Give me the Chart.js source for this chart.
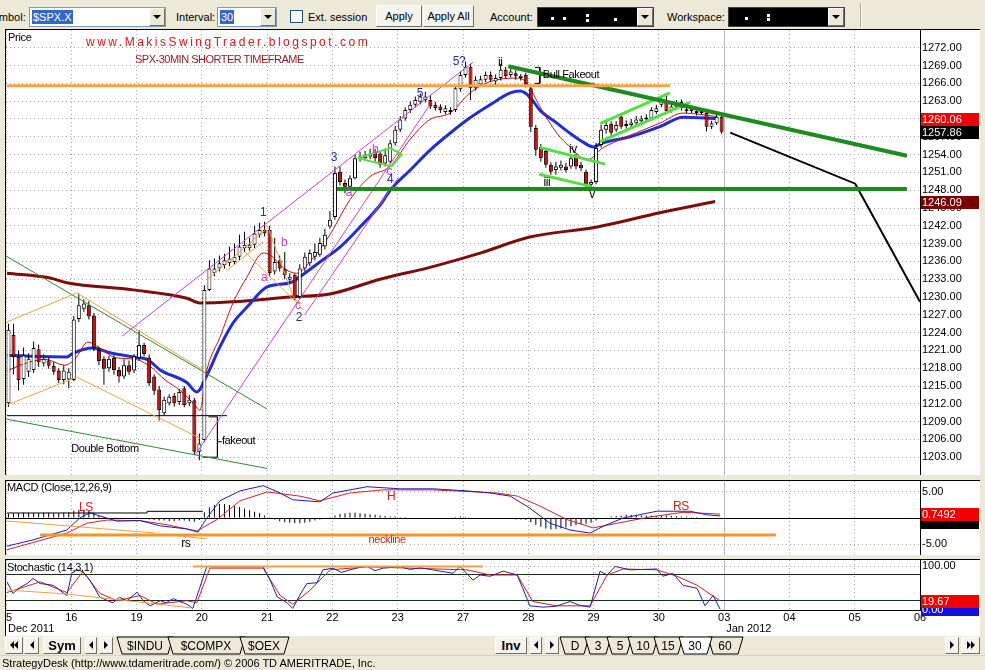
<!DOCTYPE html>
<html>
<head>
<meta charset="utf-8">
<title>SPX-30MIN</title>
<script src="https://cdn.jsdelivr.net/npm/chart.js"></script>
<style>
  body { margin: 0; width: 985px; height: 670px; overflow: hidden; position: relative; background: #ece9d8;
    font: 11px "Liberation Sans", Arial, sans-serif; color: #000; }
  .abs { position: absolute; white-space: nowrap; line-height: 14px; }
  .tight { letter-spacing: -0.3px; }
  .combo { position: absolute; top: 7px; height: 20px; box-sizing: border-box; border: 1px solid #7f9db9; background: #fff; }
  .combo.masked { background: #000; border-color: #444; }
  .sel { position: absolute; left: 2px; top: 2px; height: 14px; line-height: 14px; padding: 0 1px; background: #316ac5; color: #fff; }
  .dd { position: absolute; right: 0; top: 0; width: 16px; height: 18px; box-sizing: border-box; background: #ece9d8;
    border: 1px solid; border-color: #fff #716f64 #716f64 #fff; }
  .dd::after { content: ""; position: absolute; left: 3px; top: 6px; border-left: 4px solid transparent;
    border-right: 4px solid transparent; border-top: 4px solid #000; }
  .dot { position: absolute; width: 3px; height: 3px; background: #fff; }
  .btn { position: absolute; box-sizing: border-box; text-align: center; background: #f4f3ee;
    border: 1px solid; border-color: #fff #716f64 #716f64 #fff; }
  .frame { position: absolute; left: 5px; width: 975px; box-sizing: border-box; border-top: 1px solid #000;
    border-left: 1px solid #000; background: #fff; }
  canvas { position: absolute; left: 6px; }
  .al, .ar { display: inline-block; width: 0; height: 0; border-top: 4px solid transparent;
    border-bottom: 4px solid transparent; vertical-align: middle; }
  .al { border-right: 4px solid #000; }
  .ar { border-left: 4px solid #000; }
</style>
</head>
<body>
<!-- toolbar -->
<div class="abs" style="left:-14px;top:10px">Symbol:</div>
<div class="combo" style="left:29px;width:137px"><span class="sel">$SPX.X</span><div class="dd"></div></div>
<div class="abs" style="left:176px;top:10px">Interval:</div>
<div class="combo" style="left:217px;width:60px"><span class="sel">30</span><div class="dd"></div></div>
<div class="abs" style="left:290px;top:10px;width:13px;height:13px;box-sizing:border-box;border:1px solid #1c5180;background:#fff"></div>
<div class="abs" style="left:308px;top:10px">Ext. session</div>
<div class="btn" style="left:376px;top:5px;width:46px;height:22px;line-height:20px">Apply</div>
<div class="btn" style="left:423px;top:5px;width:51px;height:22px;line-height:20px">Apply All</div>
<div class="abs" style="left:490px;top:10px">Account:</div>
<div class="combo masked" style="left:537px;width:117px">
  <i class="dot" style="left:13px;top:9px"></i><i class="dot" style="left:25px;top:9px"></i>
  <i class="dot" style="left:48px;top:6px"></i><i class="dot" style="left:48px;top:11px"></i>
  <i class="dot" style="left:76px;top:10px"></i><div class="dd"></div></div>
<div class="abs" style="left:667px;top:10px">Workspace:</div>
<div class="combo masked" style="left:728px;width:117px">
  <i class="dot" style="left:16px;top:9px"></i><i class="dot" style="left:38px;top:6px"></i>
  <i class="dot" style="left:38px;top:10px"></i><div class="dd"></div></div>
<div class="abs" style="left:860px;top:3px;width:0;height:24px;border-left:1px solid #aca899;border-right:1px solid #fff"></div>

<!-- chart panels -->
<div class="frame" style="top:29px;height:446px"></div>
<canvas id="priceChart" width="974" height="445" style="top:30px"></canvas>
<div class="frame" style="top:480px;height:75px"></div>
<canvas id="macdChart" width="974" height="74" style="top:481px"></canvas>
<div class="frame" style="top:559px;height:77px"></div>
<canvas id="stochChart" width="974" height="76" style="top:560px"></canvas>

<div class="abs tight" style="left:8px;top:30px">Price</div>
<div class="abs" style="left:86px;top:35px;font-size:12px;letter-spacing:2.5px;color:#d01818">www.MakisSwingTrader.blogspot.com</div>
<div class="abs" style="left:135px;top:52px;letter-spacing:-0.5px;color:#8e1a1a">SPX-30MIN SHORTER TIMEFRAME</div>
<div class="abs tight" style="left:7px;top:480px">MACD (Close,12,26,9)</div>
<div class="abs tight" style="left:7px;top:560px">Stochastic (14,3,1)</div>

<!-- tab bar -->
<div class="btn" style="left:5px;top:637px;width:18px;height:17px;line-height:13px"><i class="al"></i><i class="al"></i></div>
<div class="btn" style="left:24px;top:637px;width:15px;height:17px;line-height:13px"><i class="al"></i></div>
<div class="btn" style="left:43px;top:637px;width:38px;height:17px;line-height:15px;font-weight:bold;font-size:13px">Sym</div>
<div class="btn" style="left:85px;top:637px;width:12px;height:17px;line-height:13px"><i class="al"></i></div>
<div class="btn" style="left:99px;top:637px;width:14px;height:17px;line-height:13px"><i class="ar"></i></div>
<div class="btn" style="left:495px;top:637px;width:32px;height:17px;line-height:15px;font-weight:bold;font-size:13px">Inv</div>
<div class="btn" style="left:530px;top:637px;width:12px;height:17px;line-height:13px"><i class="al"></i></div>
<div class="btn" style="left:545px;top:637px;width:14px;height:17px;line-height:13px"><i class="ar"></i></div>
<div class="btn" style="left:945px;top:637px;width:14px;height:17px;line-height:13px"><i class="ar"></i></div>
<div class="btn" style="left:961px;top:637px;width:19px;height:17px;line-height:13px"><i class="ar"></i><i class="ar"></i></div>
<svg class="abs" style="left:0;top:636px" width="985" height="19" font-family="Liberation Sans, Arial, sans-serif" font-size="12" text-anchor="middle">
  <polygon points="117,1 173,1 168,18 122,18" fill="#ece9d8" stroke="#000"/><text x="145" y="14">$INDU</text>
  <polygon points="168,1 245,1 240,18 173,18" fill="#ece9d8" stroke="#000"/><text x="206" y="14">$COMPX</text>
  <polygon points="240,1 289,1 284,18 245,18" fill="#ece9d8" stroke="#000"/><text x="264" y="14">$OEX</text>
  <polygon points="560,1 589,1 584,18 565,18" fill="#ece9d8" stroke="#000"/><text x="575" y="14">D</text>
  <polygon points="585,1 611,1 606,18 590,18" fill="#ece9d8" stroke="#000"/><text x="598" y="14">3</text>
  <polygon points="607,1 632,1 627,18 612,18" fill="#ece9d8" stroke="#000"/><text x="620" y="14">5</text>
  <polygon points="628,1 658,1 653,18 633,18" fill="#ece9d8" stroke="#000"/><text x="643" y="14">10</text>
  <polygon points="654,1 683,1 678,18 659,18" fill="#ece9d8" stroke="#000"/><text x="668" y="14">15</text>
  <polygon points="708,1 743,1 738,18 713,18" fill="#ece9d8" stroke="#000"/><text x="725" y="14">60</text>
  <polygon points="679,1 712,1 707,18 684,18" fill="#fff" stroke="#000"/><text x="695" y="14">30</text>
</svg>
<div class="abs" style="left:0;top:655px;width:985px;height:15px;border-top:1px solid #d6d3c6"></div>
<div class="abs" style="left:2px;top:656px">StrategyDesk (http://www.tdameritrade.com/) © 2006 TD AMERITRADE, Inc.</div>

<script>
document.addEventListener("DOMContentLoaded", function () {
  "use strict";

  // ---- axis labels ----
  const barsPerDay = 13;
  const dayLabels = ["15", "16", "19", "20", "21", "22", "23", "27", "28", "29", "30", "03", "04", "05", "06"];
  const monthLabels = [["15", "Dec 2011"], ["03", "Jan 2012"]];
  const priceTicks = [1203, 1206, 1209, 1212, 1215, 1218, 1221, 1224, 1227, 1230, 1233, 1236,
    1239, 1242, 1245, 1248, 1251, 1254, 1257, 1260, 1263, 1266, 1269, 1272];
  const macdTicks = [-5, 0, 5];
  const stochTicks = [20, 80, 100];

  // ---- 30 minute candles [open, high, low, close] ----
  const candles = [
    // Dec 15
    [1212.1, 1225.5, 1211.5, 1224.5], [1223.6, 1225.5, 1217.0, 1219.9], [1219.9, 1221.0, 1214.3, 1216.0],
    [1216.2, 1221.5, 1215.2, 1220.2], [1217.4, 1220.5, 1216.5, 1219.6], [1217.7, 1222.5, 1217.2, 1221.4],
    [1221.2, 1222.0, 1218.2, 1219.0], [1218.8, 1220.3, 1218.3, 1219.6], [1219.3, 1219.8, 1217.9, 1218.4],
    [1218.4, 1219.0, 1216.9, 1217.4], [1217.6, 1218.0, 1215.5, 1216.0], [1216.0, 1218.5, 1215.3, 1217.6],
    [1216.1, 1218.0, 1214.6, 1217.4],
    // Dec 16
    [1216.0, 1226.8, 1215.8, 1226.2], [1226.3, 1230.6, 1225.8, 1228.6], [1228.0, 1229.6, 1227.5, 1228.9],
    [1228.6, 1229.3, 1226.2, 1226.7], [1226.9, 1227.3, 1220.9, 1221.3], [1221.1, 1221.6, 1218.5, 1219.2],
    [1219.6, 1220.0, 1215.2, 1217.9], [1218.0, 1220.1, 1217.4, 1219.6], [1219.7, 1220.2, 1216.9, 1217.7],
    [1217.7, 1218.2, 1215.6, 1216.6], [1216.6, 1219.5, 1216.2, 1218.5], [1218.5, 1219.3, 1216.9, 1217.4],
    [1217.6, 1220.4, 1217.2, 1220.0],
    // Dec 19
    [1219.7, 1224.4, 1219.3, 1221.9], [1221.9, 1222.3, 1220.0, 1220.4], [1219.8, 1220.3, 1215.0, 1215.5],
    [1216.6, 1217.0, 1213.5, 1214.2], [1214.4, 1215.0, 1209.2, 1210.9], [1210.4, 1213.2, 1210.0, 1212.7],
    [1212.1, 1213.6, 1211.7, 1213.2], [1213.3, 1213.8, 1211.5, 1212.1], [1212.3, 1214.5, 1211.8, 1214.0],
    [1214.6, 1215.0, 1211.4, 1211.8], [1212.1, 1213.5, 1211.6, 1212.7], [1212.6, 1213.0, 1203.4, 1203.9],
    [1203.9, 1207.0, 1202.5, 1205.3],
    // Dec 20
    [1205.9, 1232.0, 1205.5, 1231.2], [1231.2, 1236.2, 1231.0, 1234.8], [1234.0, 1236.5, 1233.5, 1234.8],
    [1234.8, 1237.0, 1234.3, 1235.7], [1235.4, 1237.3, 1234.8, 1236.2], [1235.7, 1238.5, 1235.2, 1236.5],
    [1235.9, 1239.0, 1235.4, 1236.8], [1236.8, 1240.5, 1236.2, 1238.5], [1238.2, 1241.0, 1237.6, 1238.8],
    [1238.2, 1240.0, 1237.8, 1238.8], [1238.8, 1242.0, 1238.2, 1240.7], [1240.5, 1242.5, 1240.0, 1241.3],
    [1241.3, 1242.7, 1240.2, 1240.7],
    // Dec 21
    [1241.3, 1242.0, 1233.5, 1234.0], [1234.3, 1240.0, 1233.8, 1235.9], [1236.2, 1237.0, 1234.3, 1234.8],
    [1234.8, 1237.6, 1233.0, 1233.7], [1232.9, 1234.0, 1232.5, 1233.4], [1233.7, 1234.0, 1229.4, 1229.8],
    [1230.0, 1235.5, 1229.6, 1234.8], [1234.8, 1237.5, 1234.3, 1236.8], [1235.7, 1238.0, 1235.2, 1237.4],
    [1236.8, 1239.0, 1236.2, 1237.6], [1237.1, 1240.0, 1236.8, 1239.1], [1238.5, 1241.5, 1238.0, 1240.5],
    [1241.9, 1244.5, 1241.5, 1243.0],
    // Dec 22
    [1243.5, 1252.0, 1243.0, 1250.9], [1251.1, 1252.0, 1248.8, 1249.4], [1249.2, 1249.8, 1247.5, 1248.6],
    [1248.6, 1250.5, 1248.2, 1250.0], [1250.0, 1254.0, 1249.8, 1253.4], [1253.2, 1254.5, 1252.8, 1253.7],
    [1253.4, 1254.6, 1253.0, 1253.9], [1253.7, 1255.0, 1253.2, 1254.2], [1254.3, 1255.0, 1252.8, 1253.4],
    [1254.2, 1254.6, 1251.8, 1252.3], [1252.5, 1255.0, 1252.0, 1253.9], [1252.8, 1256.5, 1252.5, 1255.9],
    [1255.9, 1258.8, 1255.5, 1258.2],
    // Dec 23
    [1258.2, 1260.5, 1257.8, 1259.9], [1260.1, 1262.0, 1259.7, 1261.5], [1261.5, 1263.0, 1261.0, 1262.4],
    [1262.4, 1263.8, 1262.0, 1263.2], [1262.9, 1264.3, 1262.5, 1263.8], [1263.2, 1264.6, 1262.8, 1263.8],
    [1263.2, 1264.0, 1261.7, 1262.1], [1262.4, 1262.9, 1261.4, 1261.8], [1262.1, 1262.5, 1261.0, 1261.5],
    [1261.2, 1262.3, 1260.8, 1261.8], [1261.5, 1262.0, 1260.7, 1261.2], [1261.5, 1265.6, 1261.2, 1265.2],
    [1265.0, 1268.0, 1264.6, 1267.4],
    // Dec 27
    [1267.4, 1269.7, 1267.0, 1268.8], [1268.8, 1269.3, 1263.2, 1265.2], [1265.2, 1267.2, 1264.8, 1266.6],
    [1265.8, 1267.3, 1265.4, 1266.7], [1266.6, 1268.0, 1266.2, 1267.4], [1267.4, 1268.0, 1266.2, 1266.6],
    [1266.3, 1267.5, 1265.7, 1266.9], [1266.9, 1269.3, 1266.5, 1268.3], [1268.3, 1268.8, 1266.8, 1267.2],
    [1267.4, 1268.6, 1267.0, 1268.0], [1267.7, 1268.2, 1266.6, 1267.2], [1266.9, 1267.6, 1266.5, 1267.3],
    [1267.4, 1267.8, 1265.3, 1265.8],
    // Dec 28
    [1265.2, 1265.6, 1257.8, 1258.7], [1258.5, 1259.0, 1253.8, 1254.8], [1255.3, 1255.8, 1252.8, 1253.4],
    [1254.6, 1255.0, 1251.8, 1252.3], [1252.3, 1252.7, 1250.6, 1251.1], [1251.4, 1252.8, 1250.6, 1252.0],
    [1251.8, 1253.0, 1251.3, 1252.3], [1252.0, 1252.6, 1251.0, 1251.4], [1252.0, 1254.0, 1251.6, 1253.4],
    [1253.7, 1254.2, 1251.5, 1252.0], [1252.3, 1252.8, 1251.2, 1251.7], [1251.1, 1251.5, 1248.5, 1248.9],
    [1248.9, 1249.8, 1248.3, 1249.4],
    // Dec 29
    [1249.4, 1256.0, 1249.0, 1255.1], [1255.6, 1259.0, 1255.2, 1258.2], [1258.2, 1259.5, 1257.5, 1259.0],
    [1259.2, 1259.6, 1257.2, 1257.7], [1258.2, 1259.6, 1257.8, 1259.0], [1260.4, 1260.8, 1258.3, 1258.7],
    [1258.8, 1259.8, 1258.4, 1259.1], [1259.0, 1260.0, 1258.6, 1259.4], [1259.3, 1260.5, 1258.9, 1259.9],
    [1259.6, 1260.6, 1259.2, 1260.1], [1259.9, 1260.8, 1259.5, 1260.2], [1260.1, 1262.0, 1259.8, 1261.5],
    [1261.2, 1262.4, 1260.8, 1261.8],
    // Dec 30
    [1262.4, 1264.0, 1262.0, 1263.2], [1262.7, 1264.1, 1261.0, 1261.3], [1261.5, 1262.6, 1261.1, 1262.1],
    [1262.0, 1263.2, 1261.6, 1262.7], [1262.9, 1263.3, 1261.4, 1261.8], [1261.3, 1262.0, 1261.0, 1261.5],
    [1261.3, 1261.9, 1261.0, 1261.5], [1261.4, 1261.8, 1260.6, 1261.0], [1261.0, 1261.7, 1260.7, 1261.3],
    [1261.0, 1261.4, 1257.9, 1258.7], [1258.7, 1259.7, 1258.3, 1259.3], [1259.3, 1261.0, 1259.0, 1260.4],
    [1260.4, 1261.0, 1257.5, 1257.86]
  ];

  // moving averages, [bar, price]
  const emaFast = [[0.2, 1217.5], [2.8, 1218.5], [7.8, 1219.5], [11.7, 1218.5], [13.7, 1219.5], [16.3, 1222.4],
    [18.7, 1221.4], [21.7, 1219.8], [25.7, 1219.5], [28.7, 1218.3], [31.7, 1216.0], [34.6, 1214.3],
    [37.6, 1211.8], [38.6, 1210.9], [40.0, 1217.7], [42.6, 1223.2], [45.2, 1229.0], [48.0, 1233.4],
    [51.2, 1237.4], [52.6, 1237.1], [55.2, 1234.9], [57.9, 1234.0], [60.5, 1235.9], [64.5, 1240.5],
    [68.5, 1246.4], [72.5, 1250.3], [76.5, 1252.0], [80.4, 1256.5], [84.4, 1259.9], [88.4, 1261.0],
    [92.4, 1264.4], [96.4, 1266.3], [101.8, 1266.9], [103.7, 1266.1], [106.3, 1262.1], [109.7, 1257.6],
    [112.3, 1255.3], [115.7, 1253.1], [116.9, 1253.6], [118.3, 1254.8], [120.9, 1256.0], [130.2, 1259.3],
    [134.8, 1261.0], [141.6, 1260.4]];
  const emaSlow = [[0.2, 1220.2], [5.4, 1220.0], [12.1, 1219.9], [13.3, 1220.5], [17.3, 1221.4], [20.7, 1220.6],
    [25.3, 1219.9], [28.1, 1219.5], [30.7, 1217.7], [36.0, 1215.6], [38.0, 1214.0], [40.0, 1216.8],
    [42.6, 1221.6], [45.2, 1225.6], [48.0, 1228.3], [52.0, 1231.7], [56.6, 1232.4], [58.5, 1233.4],
    [62.5, 1235.9], [66.5, 1238.4], [70.5, 1241.8], [74.5, 1245.5], [76.5, 1248.0], [80.5, 1251.4],
    [84.5, 1254.8], [88.4, 1257.6], [92.4, 1260.2], [96.4, 1262.4], [100.4, 1264.4], [102.4, 1264.7],
    [104.3, 1263.7], [106.3, 1261.5], [109.7, 1259.3], [112.3, 1257.6], [114.9, 1256.1], [116.9, 1255.3],
    [118.9, 1256.0], [124.3, 1257.0], [130.2, 1258.7], [134.8, 1260.3], [141.5, 1260.1]];
  const ma200 = [[0.2, 1234.0], [8.8, 1233.2], [12.1, 1232.4], [25.3, 1231.2], [36.0, 1229.8], [38.6, 1229.0],
    [45.2, 1229.2], [56.6, 1230.0], [64.5, 1230.5], [74.5, 1233.0], [84.4, 1235.0], [94.4, 1237.4],
    [104.3, 1240.1], [117.7, 1241.8], [130.2, 1244.2], [141.2, 1246.09]];
  const lastValues = [[1260.06, "fast"], [1257.86, "close"], [1246.09, "ma200"]];

  // drawings on the price panel, [bar, price]
  const resistance = [[0.2, 1265.6], [132.2, 1265.6]];
  const support = [[65.9, 1248.2], [179.4, 1248.2]];
  const downTrend = [[100.0, 1268.9], [179.4, 1253.8]];
  const projection = [[144.2, 1257.7], [169.1, 1249.1], [182, 1229.2]];
  const pennant = [[70.1, 1253.4], [76.5, 1255.1], [78.8, 1254.0], [76.8, 1252.0], [70.1, 1253.4]];
  const bearFlagTop = [[106.3, 1255.2], [119.3, 1252.4]];
  const bearFlagBottom = [[106.2, 1250.7], [116.6, 1248.6]];
  const riseTop = [[118.3, 1259.2], [132.2, 1264.4]];
  const riseBottom = [[118.3, 1256.2], [136.2, 1262.8]];
  const waveTop = [[23.1, 1223.4], [93.0, 1269.6]];
  const waveBase = [[37.6, 1203.3], [84.4, 1262.4]];
  const waveBase2 = [[59.5, 1227.0], [78.1, 1250.1]];
  const orangeThin = [
    [[0.2, 1225.8], [14.1, 1230.7]], [[0.2, 1211.8], [14.1, 1216.5]],
    [[14.1, 1230.7], [39.2, 1217.7]], [[14.1, 1216.5], [38.6, 1206.2]],
    [[40.0, 1232.9], [51.6, 1241.3]], [[44.0, 1234.5], [51.2, 1239.3]],
    [[52.0, 1242.1], [57.1, 1230.3], [59.1, 1227.8]], [[47.6, 1237.6], [57.9, 1229.0]]];
  const greenThin = [[[0, 1236.9], [52.0, 1211.1]], [[0.2, 1209.4], [52.0, 1201.1]]];
  const blackThin = [
    [[0.2, 1210.0], [44.0, 1210.0]],
    [[40.3, 1209.8], [42.1, 1209.8], [42.1, 1203.0], [39.3, 1203.0]], [[42.1, 1205.6], [43.0, 1205.6]],
    [[105.3, 1268.7], [106.3, 1268.7], [106.3, 1266.0], [105.3, 1266.0]], [[106.3, 1267.4], [106.9, 1267.4]]];
  const priceNotes = [
    [51.2, 1244.2, "1", "count"], [55.4, 1239.1, "b", "sub"], [51.4, 1233.2, "a", "sub"],
    [58.1, 1228.5, "c", "sub"], [58.3, 1226.5, "2", "count"], [65.3, 1253.4, "3", "count"],
    [68.3, 1247.5, "a", "sub"], [73.5, 1254.8, "b", "sub"], [76.3, 1251.1, "c", "sub"],
    [76.5, 1249.7, "4", "count"], [82.4, 1264.2, "5", "count"], [90.2, 1269.6, "5?", "count"],
    [98.4, 1269.5, "ii", "minor"], [107.7, 1249.2, "iii", "minor"], [112.9, 1254.8, "iv", "minor"],
    [116.7, 1247.2, "v", "minor"], [19.7, 1204.4, "Double Bottom", "text"],
    [106.9, 1267.4, "Bull Fakeout", "textLeft"], [43.0, 1205.7, "fakeout", "textLeft"]];

  // MACD (12,26,9)
  const macdHist = [
    0.8, 0.9, 0.9, 1.0, 1.0, 0.9, 0.9, 1.0, 1.0, 0.9, 0.9, 1.0, 1.1,
    1.4, 1.6, 1.6, 1.4, 1.0, 0.5, 0.2, -0.1, -0.2, -0.2, -0.1, 0.0, 0.1,
    0.1, -0.1, -0.3, -0.4, -0.5, -0.5, -0.6, -0.6, -0.5, -0.5, -0.6, -0.7, -0.4,
    1.1, 2.0, 2.5, 2.7, 2.7, 2.5, 2.3, 2.1, 1.8, 1.5, 1.2, 0.9, 0.5,
    0.2, -0.3, -0.6, -0.8, -0.9, -1.0, -1.0, -0.9, -0.7, -0.5, -0.3, -0.1, 0.2,
    0.5, 0.8, 0.9, 1.0, 1.0, 0.9, 0.8, 0.7, 0.6, 0.5, 0.4, 0.3, 0.3,
    0.2, 0.2, 0.1, 0.1, 0.1, 0.0, 0.0, -0.1, -0.1, 0.0, 0.1, 0.2, 0.3,
    0.2, 0.1, 0.0, -0.1, -0.1, -0.1, -0.2, -0.2, -0.2, -0.2, -0.3, -0.3, -0.4,
    -0.8, -1.3, -1.7, -2.0, -2.2, -2.1, -2.0, -1.8, -1.6, -1.4, -1.2, -1.1, -0.9,
    -0.5, -0.2, 0.1, 0.3, 0.4, 0.5, 0.6, 0.6, 0.6, 0.5, 0.5, 0.5, 0.4,
    0.5, 0.5, 0.4, 0.4, 0.3, 0.3, 0.2, 0.2, 0.1, 0.1, 0.0, -0.1, -0.1];
  const macdLine = [[0.2, -5.4], [5.4, -4.2], [12.1, -2.3], [14.7, 0], [16.7, 1.0], [18.7, 0.4], [22.1, -0.6],
    [26.7, -0.5], [30.7, -1.5], [36.0, -2.1], [38.2, -2.7], [40.0, 0], [42.6, 3.3], [46.6, 5.2], [51.2, 6.2],
    [54.6, 4.8], [57.1, 3.5], [62.5, 3.1], [65.1, 4.8], [71.9, 6.0], [78.5, 5.6], [85.0, 5.6], [91.8, 5.2],
    [96.4, 4.8], [100.4, 4.2], [104.3, 1.9], [108.3, -1.0], [112.3, -2.3], [116.3, -2.9], [118.9, -1.6],
    [122.9, 0], [129.6, 1.3], [136.2, 1.3], [139.6, 0.6], [142.2, 0.4]];
  const macdSignal = [[0.2, -6.1], [12.1, -2.9], [16.1, -1.0], [20.1, -0.4], [26.7, -0.5], [32.1, -1.3],
    [38.0, -2.5], [42.0, -0.3], [46.6, 3.3], [52.0, 5.0], [58.5, 4.2], [62.5, 3.3], [68.5, 4.8], [75.1, 5.4],
    [85.0, 5.4], [97.8, 4.8], [101.8, 4.2], [106.3, 2.3], [111.7, -0.3], [116.9, -1.9], [121.7, -1.0],
    [128.2, 0.2], [134.8, 1.1], [142.2, 0.75]];
  const macdNeckline = [[6.8, -3.27], [153.3, -3.27]];
  const macdTrends = [[[0.2, -0.58], [29.7, -2.88]], [[33.3, -3.27], [40.0, -4.04]]];
  const macdShelf = [[0.2, 0.96], [28.1, 0.96], [28.1, 1.28], [39.2, 1.28]];
  const macdNotes = [[15.9, 1.9, "LS", "red"], [35.8, -5.0, "rs", "minor"], [76.7, 4.0, "H", "red"],
    [75.9, -4.2, "neckline", "redSmall"], [134.4, 2.1, "RS", "red"]];
  const macdValues = [[-0.35, "blue"], [-0.8, "black"], [0.7492, "red"]];

  // Stochastic (14,3,1)
  const stochK = [[0.2, 64], [1.4, 37], [2.8, 51], [4.2, 60], [5.4, 72], [6.8, 60], [9.4, 56], [12.1, 32],
    [13.1, 84], [14.1, 92], [15.3, 88], [16.7, 68], [18.7, 28], [21.3, 15], [22.6, 28], [24.1, 20], [26.1, 40],
    [27.3, 20], [28.7, 8], [30.7, 20], [31.9, 15], [33.3, 25], [34.6, 18], [36.0, 12], [37.2, 2], [38.6, 51],
    [40.0, 100], [41.2, 99], [51.2, 99], [52.6, 68], [54.0, 29], [56.0, 15], [57.1, 2], [58.5, 33],
    [59.9, 60], [61.9, 62], [63.1, 92], [65.1, 96], [66.8, 86], [68.5, 92], [70.2, 97], [71.9, 100],
    [73.5, 90], [75.1, 96], [78.5, 99], [80.5, 93], [82.5, 97], [85.0, 92], [89.0, 84], [90.4, 100],
    [93.0, 68], [94.4, 80], [96.4, 77], [99.0, 89], [101.8, 80], [102.9, 49], [104.3, 8], [106.9, 5],
    [109.5, 7], [112.3, 18], [114.3, 9], [116.3, 5], [118.3, 89], [119.7, 80], [121.3, 100], [124.3, 92],
    [129.6, 94], [130.8, 77], [132.8, 84], [134.8, 56], [137.6, 49], [139.2, 8], [140.8, 32], [142.2, 0]];
  const stochD = [[0.2, 39], [6.8, 64], [12.1, 39], [15.3, 88], [18.7, 37], [22.1, 20], [26.7, 32],
    [30.1, 12], [36.0, 20], [38.0, 15], [40.6, 96], [51.2, 96], [54.6, 32], [57.1, 12], [60.5, 44],
    [64.5, 92], [71.9, 99], [91.8, 92], [96.4, 80], [101.8, 80], [104.9, 18], [109.7, 8], [116.3, 8],
    [119.7, 80], [122.9, 94], [129.6, 92], [133.6, 77], [137.6, 56], [142.2, 19.67]];
  const stochTop = [[37.2, 99.8], [95.0, 99.8]];
  const stochTrend = [[0.2, 45], [12.1, 35.6], [37.0, 3]];
  const stochValues = [[0, "blue"], [19.67, "red"]];

  // ---- styles ----
  Chart.defaults.font.family = "'Liberation Sans', Arial, sans-serif";
  Chart.defaults.font.size = 11;
  Chart.defaults.color = "#000";

  const noteStyles = {
    count: { font: "12px 'Liberation Sans'", color: "#2b2ba5", align: "center" },
    sub: { font: "12px 'Liberation Sans'", color: "#c83cc8", align: "center" },
    minor: { font: "12px 'Liberation Sans'", color: "#000", align: "center" },
    text: { font: "11px 'Liberation Sans'", color: "#000", align: "center" },
    textLeft: { font: "11px 'Liberation Sans'", color: "#000", align: "left" },
    red: { font: "12px 'Liberation Sans'", color: "#d42020", align: "center" },
    redSmall: { font: "11px 'Liberation Sans'", color: "#d42020", align: "center" }
  };
  const boxColors = { fast: "#f00000", close: "#000", ma200: "#7a0000", red: "#f00000", blue: "#1010e0", black: "#000" };
  const todayTick = dayLabels.indexOf("03") * barsPerDay;

  const pts = (arr) => arr.map(([x, y]) => ({ x, y }));
  const line = (arr, color, width, extra) => Object.assign({
    type: "line", data: pts(arr), borderColor: color, borderWidth: width,
    pointRadius: 0, fill: false, tension: 0, order: 0
  }, extra || {});
  const smooth = { cubicInterpolationMode: "monotone", order: 3 };

  function timeAxis(showDays) {
    return {
      type: "linear", min: 0, max: (dayLabels.length - 1) * barsPerDay, offset: false,
      afterBuildTicks: (s) => { s.ticks = dayLabels.map((d, i) => ({ value: i * barsPerDay })); },
      afterFit: (s) => { s.paddingLeft = 0; s.paddingRight = 0; s.height = showDays ? 26 : 0; },
      grid: { offset: false, drawTicks: false,
        color: (c) => (c.tick && c.tick.value === todayTick) ? "#b8b8b8" : "#a4a4a4" },
      border: { display: showDays, color: "#000",
        dash: (c) => (c.tick && c.tick.value !== todayTick) ? [1, 3] : [] },
      ticks: { display: showDays, autoSkip: false, maxRotation: 0, minRotation: 0, padding: 1,
        callback: (v) => dayLabels[Math.round(v / barsPerDay)] }
    };
  }

  function valueAxis(min, max, tickValues, format, solid) {
    const solidColor = (c) => c.tick && solid[c.tick.value];
    return {
      position: "right", min, max,
      afterBuildTicks: (s) => { s.ticks = tickValues.map((value) => ({ value })); },
      afterFit: (s) => { s.width = 60; s.paddingTop = 0; s.paddingBottom = 0; },
      grid: { drawTicks: false, color: (c) => solidColor(c) || "#a4a4a4" },
      border: { color: "#000", dash: (c) => (c.tick && !solidColor(c)) ? [1, 3] : [] },
      ticks: { padding: 2, autoSkip: false, callback: format }
    };
  }

  function overlay(notes, values, months) {
    return {
      id: "overlay",
      afterDatasetsDraw(chart) {
        const { ctx, scales: { x, y } } = chart;
        ctx.save();
        ctx.textBaseline = "middle";
        ctx.letterSpacing = "-0.4px";
        notes.forEach(([u, v, text, kind]) => {
          const st = noteStyles[kind];
          ctx.font = st.font;
          ctx.fillStyle = st.color;
          ctx.textAlign = st.align;
          ctx.fillText(text, x.getPixelForValue(u), y.getPixelForValue(v));
        });
        ctx.restore();
      },
      afterDraw(chart) {
        const { ctx, chartArea, scales: { x, y } } = chart;
        ctx.save();
        ctx.font = "11px 'Liberation Sans'";
        ctx.textBaseline = "middle";
        ctx.textAlign = "left";
        values.forEach(([v, kind, text]) => {
          const py = Math.round(y.getPixelForValue(v));
          ctx.fillStyle = boxColors[kind];
          ctx.fillRect(chartArea.right + 1, py - 6, 58, 13);
          if (text) {
            ctx.fillStyle = "#fff";
            ctx.fillText(text, chartArea.right + 2, py + 1);
          }
        });
        ctx.fillStyle = "#000";
        (months || []).forEach(([day, text]) => {
          const px = x.getPixelForValue(dayLabels.indexOf(day) * barsPerDay);
          ctx.fillText(text, px + 2, x.top + 19);
        });
        ctx.restore();
      }
    };
  }

  function makeChart(id, datasets, yAxis, showDays, plugin) {
    return new Chart(document.getElementById(id), {
      type: "bar",
      data: { datasets },
      options: {
        responsive: false, animation: false, events: [],
        layout: { padding: 0 },
        plugins: { legend: { display: false }, tooltip: { enabled: false } },
        scales: { x: timeAxis(showDays), y: yAxis }
      },
      plugins: [plugin]
    });
  }

  // ---- price panel ----
  const wicks = candles.map((c, i) => ({ x: i + 0.5, y: [c[2], c[1]] }));
  const bodies = candles.map((c, i) => ({ x: i + 0.5, y: [c[0], c[3]] }));
  const bodyColors = candles.map((c) => (c[3] >= c[0] ? "#ffffff" : "#e00000"));

  const priceSets = [
    line(emaFast, "#cc1111", 1, smooth),
    line(emaSlow, "#1f2fd0", 3, smooth),
    line(ma200, "#7d0c0c", 3, smooth),
    { type: "bar", data: wicks, backgroundColor: "#000", barThickness: 1, grouped: false, inflateAmount: 0, order: 2 },
    { type: "bar", data: bodies, backgroundColor: bodyColors, borderColor: "#000", borderWidth: 1,
      borderSkipped: false, barThickness: 4, grouped: false, minBarLength: 2, inflateAmount: 0, order: 1 },
    line(resistance, "#f4a444", 3),
    line(support, "#1f8a1f", 4),
    line(downTrend, "#1f8a1f", 4),
    line(projection, "#000", 2),
    line(pennant, "#55e040", 2),
    line(bearFlagTop, "#55e040", 3),
    line(bearFlagBottom, "#55e040", 3),
    line(riseTop, "#55e040", 3),
    line(riseBottom, "#55e040", 3),
    line(waveTop, "#d040d0", 1),
    line(waveBase, "#d040d0", 1),
    line(waveBase2, "#d040d0", 1)
  ];
  orangeThin.forEach((seg) => priceSets.push(line(seg, "#f0a040", 1)));
  greenThin.forEach((seg) => priceSets.push(line(seg, "#2e8b2e", 1)));
  blackThin.forEach((seg) => priceSets.push(line(seg, "#000", 1)));

  makeChart("priceChart", priceSets,
    valueAxis(1200, 1275, priceTicks, (v) => v.toFixed(2), {}), false,
    overlay(priceNotes, lastValues.map(([v, k]) => [v, k, v.toFixed(2)])));

  // ---- MACD panel ----
  const macdSets = [
    { type: "bar", data: macdHist.map((v, i) => ({ x: i + 0.5, y: v })), backgroundColor: "#000",
      barThickness: 1, grouped: false, inflateAmount: 0, order: 2 },
    line(macdLine, "#1a1ac8", 1, { order: 1 }),
    line(macdSignal, "#d42020", 1, { order: 1 }),
    line(macdNeckline, "#f5962a", 3),
    line(macdShelf, "#000", 1)
  ];
  macdTrends.forEach((seg) => macdSets.push(line(seg, "#f0a040", 1)));
  makeChart("macdChart", macdSets,
    valueAxis(-7.1, 7.1, macdTicks, (v) => (v === 0 ? "" : v.toFixed(2)), { 0: "#000" }), false,
    overlay(macdNotes, macdValues.map(([v, k]) => [v, k, k === "red" ? v.toFixed(4) : ""])));

  // ---- Stochastic panel ----
  const stochSets = [
    line(stochK, "#2020b0", 1, { order: 1 }),
    line(stochD, "#d02020", 1, { order: 1 }),
    line(stochTop, "#f0a040", 2),
    line(stochTrend, "#f0a040", 1)
  ];
  makeChart("stochChart", stochSets,
    valueAxis(-1.7, 115, stochTicks, (v) => (v === 100 ? "100.00" : ""), { 20: "#17301a", 80: "#17301a" }), true,
    overlay([], stochValues.map(([v, k]) => [v, k, v.toFixed(2)]), monthLabels));
});
</script>
</body>
</html>
